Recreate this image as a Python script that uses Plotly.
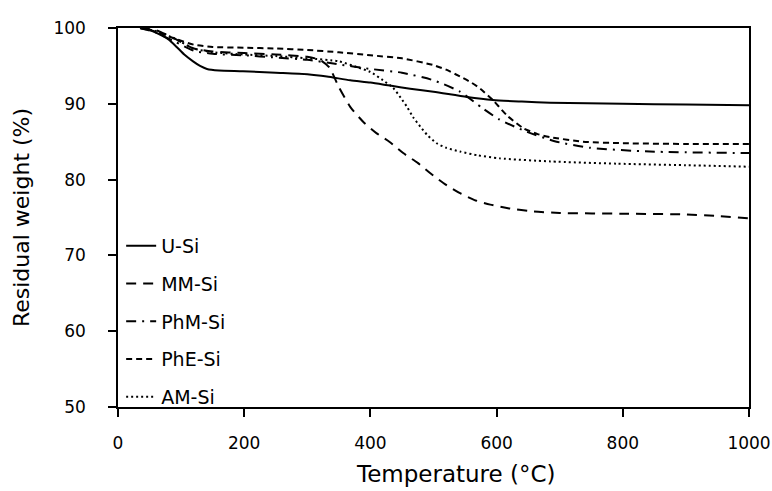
import plotly.graph_objects as go

# ---- data ----
u_x = [35, 45, 60, 80, 93, 105, 119, 130, 141, 160, 198, 250, 300, 331, 368, 400, 431, 463, 500, 553, 594, 640, 685, 800, 900, 1000]
u_y = [100, 99.9, 99.4, 98.5, 97.5, 96.5, 95.6, 95.0, 94.6, 94.4, 94.3, 94.1, 93.9, 93.6, 93.1, 92.8, 92.4, 92.0, 91.6, 90.9, 90.5, 90.3, 90.15, 90.0, 89.9, 89.8]

mm_x = [35, 60, 90, 120, 150, 200, 250, 300, 320, 335, 350, 368, 390, 410, 430, 452, 475, 494, 520, 542, 565, 590, 620, 658, 700, 800, 900, 950, 1000]
mm_y = [100, 99.7, 98.6, 97.3, 96.9, 96.7, 96.5, 96.2, 95.8, 94.8, 92.2, 89.6, 87.5, 86.1, 85.0, 83.5, 82.2, 80.9, 79.3, 78.2, 77.3, 76.7, 76.2, 75.8, 75.6, 75.5, 75.4, 75.2, 74.9]

phm_x = [35, 60, 90, 120, 150, 200, 250, 300, 350, 400, 450, 500, 542, 578, 605, 648, 695, 748, 843, 1000]
phm_y = [100, 99.4, 98.2, 97.0, 96.6, 96.4, 96.1, 95.8, 95.2, 94.6, 94.1, 93.1, 91.6, 89.4, 87.9, 86.3, 85.0, 84.2, 83.7, 83.5]

phe_x = [35, 60, 90, 120, 150, 200, 250, 300, 350, 400, 450, 500, 520, 542, 560, 574, 594, 616, 642, 665, 685, 737, 800, 900, 1000]
phe_y = [100, 99.5, 98.6, 97.8, 97.5, 97.4, 97.3, 97.1, 96.8, 96.4, 96.0, 95.1, 94.5, 93.6, 92.8, 92.0, 90.5, 88.5, 86.8, 86.0, 85.6, 85.0, 84.8, 84.7, 84.7]

am_x = [35, 60, 90, 120, 150, 200, 250, 300, 350, 380, 400, 420, 436, 448, 458, 468, 479, 490, 505, 520, 542, 570, 605, 685, 790, 900, 1000]
am_y = [100, 99.6, 98.6, 97.3, 96.8, 96.5, 96.3, 96.0, 95.6, 94.8, 94.2, 93.1, 92.1, 90.8, 89.6, 88.2, 87.0, 85.9, 84.8, 84.2, 83.7, 83.2, 82.8, 82.4, 82.1, 81.9, 81.7]

names = ["U-Si", "MM-Si", "PhM-Si", "PhE-Si", "AM-Si"]
xs = [u_x, mm_x, phm_x, phe_x, am_x]
ys = [u_y, mm_y, phm_y, phe_y, am_y]
dashes = ["solid", "10px,7px", "10px,6px,2px,6px", "6px,4px", "2px,3px"]

x_ticks = [0, 200, 400, 600, 800, 1000]
y_ticks = [50, 60, 70, 80, 90, 100]

FONT = "DejaVu Sans"

fig = go.Figure()
for n, x, y, d in zip(names, xs, ys, dashes):
    fig.add_trace(go.Scatter(
        x=x, y=y, mode="lines", name=n, legendgroup=n,
        line=dict(color="black", width=2, dash=d, shape="spline", smoothing=0.6),
    ))

axis_common = dict(
    showgrid=False, zeroline=False, showline=True, linecolor="black", linewidth=1.5,
    mirror=True, ticks="outside", ticklen=8, tickcolor="black", tickwidth=1.5,
    tickfont=dict(family=FONT, size=17, color="black"), automargin=False,
)

fig.update_xaxes(range=[0, 1000], tickvals=x_ticks, ticklabelstandoff=12,
                 ticklabeloverflow="allow", **axis_common)
fig.update_yaxes(range=[50, 100], tickvals=y_ticks, ticklabelstandoff=19,
                 title=dict(text="Residual weight (%)", font=dict(family=FONT, size=22, color="black"), standoff=18),
                 **axis_common)

fig.add_annotation(text="Temperature (°C)", xref="paper", yref="paper", x=0.536, y=-0.2164,
                   xanchor="center", yanchor="bottom", showarrow=False,
                   font=dict(family=FONT, size=23, color="black"))

fig.update_layout(
    width=772, height=491,
    margin=dict(l=118, r=23, t=28, b=84),
    paper_bgcolor="white", plot_bgcolor="white",
    font=dict(family=FONT, color="black"),
    legend=dict(x=0.005, y=0.475, xanchor="left", yanchor="top",
                font=dict(family=FONT, size=19, color="black"),
                tracegroupgap=10, bgcolor="rgba(0,0,0,0)"),
)

fig.write_html("out.html", config={"displayModeBar": False},
               post_script="document.body.style.margin='0';document.body.style.overflow='hidden';")
